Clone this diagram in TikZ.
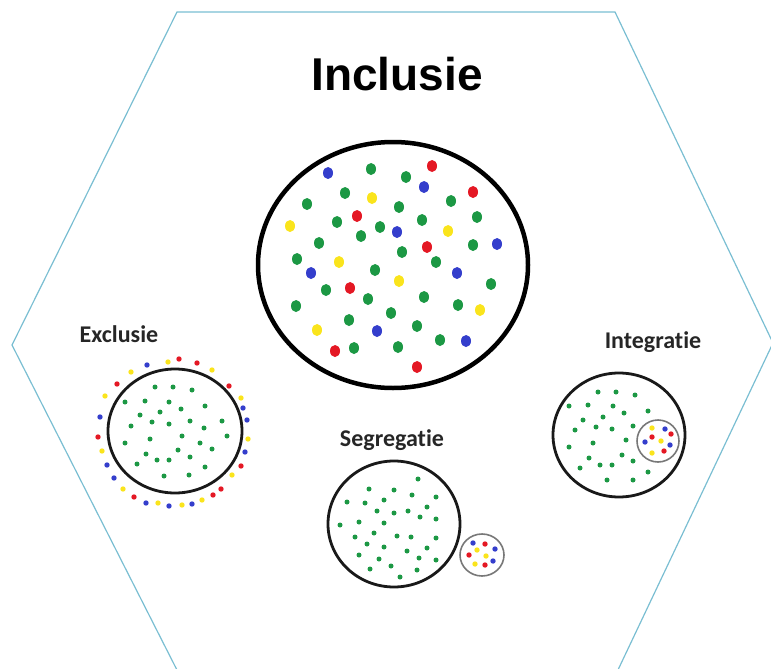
\documentclass[tikz,border=0pt]{standalone}
\usepackage{fontspec}
\setmainfont[Ligatures={NoCommon,NoDiscretionary}]{Carlito}
\newfontfamily\headfont{Liberation Sans}
\usepackage{xcolor}
\usepackage{tikz}
\usetikzlibrary{positioning}

\definecolor{hexline}{RGB}{122,190,210}
\definecolor{dotgreen}{RGB}{28,152,68}
\definecolor{dotred}{RGB}{228,24,36}
\definecolor{dotblue}{RGB}{52,62,204}
\definecolor{dotyellow}{RGB}{250,228,28}
\definecolor{ringgrey}{RGB}{120,120,120}

\tikzset{
	bigring/.style={line width=4.5pt,black},
	midring/.style={line width=2.8pt,black!90},
	smallring/.style={line width=1.6pt,ringgrey},
	titletext/.style={anchor=base,font=\headfont\bfseries\fontsize{46}{50}\selectfont},
	grouptext/.style={anchor=base,font=\bfseries\fontsize{24}{28}\selectfont,text=black!85}
}

\begin{document}
\begin{tikzpicture}[x=1pt,y=-1pt]
	\useasboundingbox (0,0) rectangle (771,669);
	\clip (0,0) rectangle (771,669);
	\draw[hexline,line width=1.2pt] (177,12) -- (615,12) -- (773,343) -- (617,672) -- (178,672) -- (12,345) -- cycle;
	\node[titletext] (inclusie) at (397,90) {Inclusie};
	\node[grouptext] (exclusie) at (119,342) {Exclusie};
	\node[grouptext] (segregatie) at (392,446) {Segregatie};
	\node[grouptext] (integratie) at (653,348) {Integratie};
	\draw[bigring] (393,265) ellipse [x radius=135pt, y radius=123pt];
	\draw[midring] (175,431) ellipse [x radius=67pt, y radius=62pt];
	\draw[midring] (394,524) ellipse [x radius=66pt, y radius=63pt];
	\draw[smallring] (482,555) ellipse [x radius=22pt, y radius=21pt];
	\draw[midring] (619,435) ellipse [x radius=66pt, y radius=62pt];
	\draw[smallring] (658,441) ellipse [x radius=21pt, y radius=21pt];
	% inclusie
	\foreach \x/\y in {371/169,406/177,345/193,307/204,399/207,451/201,477/217,337/222,380/227,422/220,361/236,319/243,402/252,473/245,297/259,436/262,375/270,326/290,491/284,368/299,424/297,296/306,458/305,391/313,349/320,417/326,440/340,354/348,398/347}
		\fill[dotgreen] (\x,\y) ellipse [x radius=5pt, y radius=6pt];
	\foreach \x/\y in {432/166,473/192,357/216,427/247,350/288,335/351,417/367}
		\fill[dotred] (\x,\y) ellipse [x radius=5pt, y radius=6pt];
	\foreach \x/\y in {328/173,424/187,397/232,497/244,311/273,457/273,377/331,466/341}
		\fill[dotblue] (\x,\y) ellipse [x radius=5pt, y radius=6pt];
	\foreach \x/\y in {372/198,290/226,448/231,339/262,399/281,480/310,317/330}
		\fill[dotyellow] (\x,\y) ellipse [x radius=5pt, y radius=6pt];
	% exclusie
	\foreach \x/\y in {155/387,173/387,192/390,125/402,145/401,169/402,205/406,181/409,140/415,160/412,131/426,152/422,169/424,190/421,204/428,222/421,227/436,182/436,150/439,125/443,200/443,178/450,212/449,146/454,190/457,157/460,169/460,137/464,205/467,164/476,189/475}
		\fill[dotgreen] (\x,\y) circle (2.5pt);
	\foreach \x/\y in {179/359,197/363,117/384,229/386,98/437,241/466,221/489,213/495,134/497}
		\fill[dotred] (\x,\y) circle (2.7pt);
	\foreach \x/\y in {147/365,243/408,100/417,247/420,245/452,107/465,114/478,146/503,169/506,192/504}
		\fill[dotblue] (\x,\y) circle (2.7pt);
	\foreach \x/\y in {168/362,131/372,212/370,105/396,241/398,248/439,102/451,232/475,123/489,158/503,182/505,202/500}
		\fill[dotyellow] (\x,\y) circle (2.7pt);
	% segregatie
	\foreach \x/\y in {418/479,369/489,394/490,412/495,436/497,347/502,365/503,384/500,427/507,377/511,394/513,408/511,420/517,436/519,340/525,359/522,384/523,374/533,355/537,397/536,411/537,436/538,367/544,384/547,427/548,359/555,407/551,379/559,419/558,436/560,370/569,391/566,417/570,400/577}
		\fill[dotgreen] (\x,\y) circle (2.5pt);
	\foreach \x/\y in {485/544,469/555,485/565}
		\fill[dotred] (\x,\y) circle (2.7pt);
	\foreach \x/\y in {473/543,495/549,493/561}
		\fill[dotblue] (\x,\y) circle (2.7pt);
	\foreach \x/\y in {477/550,486/556,475/564}
		\fill[dotyellow] (\x,\y) circle (2.7pt);
	% integratie
	\foreach \x/\y in {598/392,616/392,635/395,569/406,588/405,613/406,624/413,648/411,603/417,583/420,575/430,596/427,612/429,633/426,593/443,626/440,569/447,622/455,589/458,633/461,580/468,600/465,612/465,648/472,607/480,633/480}
		\fill[dotgreen] (\x,\y) circle (2.5pt);
	\foreach \x/\y in {671/434,652/437,664/451}
		\fill[dotred] (\x,\y) circle (2.7pt);
	\foreach \x/\y in {665/429,645/442,670/445}
		\fill[dotblue] (\x,\y) circle (2.7pt);
	\foreach \x/\y in {652/428,661/441,652/453}
		\fill[dotyellow] (\x,\y) circle (2.7pt);
\end{tikzpicture}
\end{document}
